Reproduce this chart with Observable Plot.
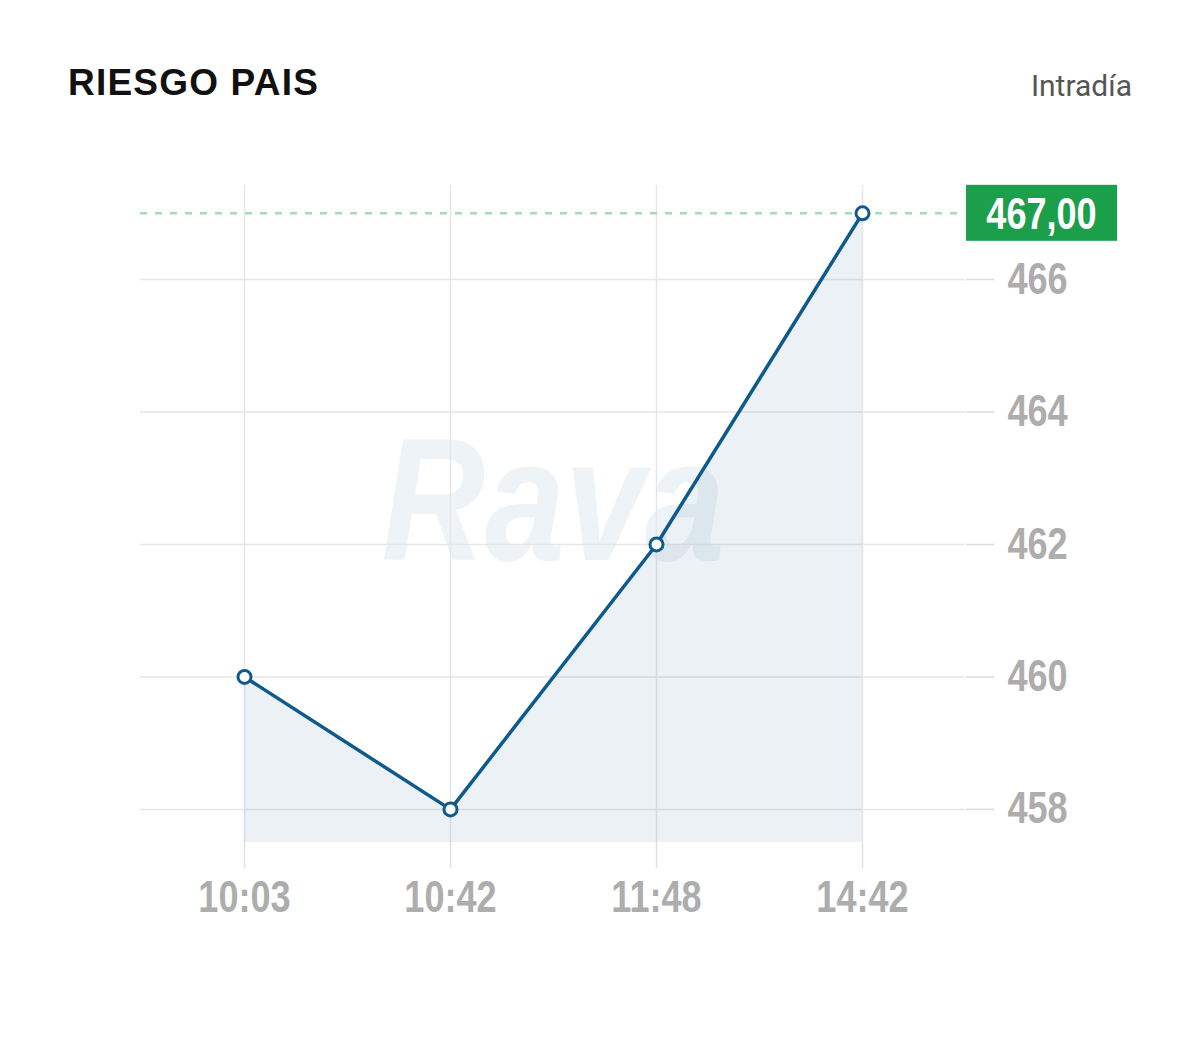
<!DOCTYPE html>
<html>
<head>
<meta charset="utf-8">
<script src="https://cdn.jsdelivr.net/npm/d3@7"></script>
<script src="https://cdn.jsdelivr.net/npm/@observablehq/plot@0.6"></script>
<style>
  html, body { margin: 0; padding: 0; background: #fff; }
  #wrap { width: 1200px; }
  #header { position: relative; width: 1200px; height: 150px; }
  #title { position: absolute; left: 68px; top: 64px; font-family: "Liberation Sans", Arial, sans-serif; font-weight: bold; font-size: 37px; line-height: 1; letter-spacing: 1.2px; color: #111; }
  #sub { position: absolute; right: 68px; top: 71px; font-family: Roboto, "Open Sans", sans-serif; font-size: 30px; line-height: 1; color: #555; }
</style>
</head>
<body>
<div id="wrap">
  <div id="header"><span id="title">RIESGO PAIS</span><span id="sub">Intradía</span></div>
  <div id="chart"></div>
</div>
<script>
const times = ["10:03", "10:42", "11:48", "14:42"];
const values = [460, 458, 462, 467];
const yTicks = [458, 460, 462, 464, 466];
const yDomain = [457.5, 467.42];
const lastValue = 467;
const lastLabel = "467,00";
const watermark = "Rava";

const data = times.map((t, i) => ({t, v: values[i]}));
const font = '"Liberation Sans", Arial, sans-serif';
const blue = "#0e5a8c";
const NARROW = 0.82;

function badge(index, scales, vals, dims) {
  const ns = "http://www.w3.org/2000/svg";
  const g = document.createElementNS(ns, "g");
  const y = scales.y(lastValue);
  const x0 = dims.width - dims.marginRight + 1;
  const w = 151, h = 56;
  const r = document.createElementNS(ns, "rect");
  r.setAttribute("x", x0); r.setAttribute("y", y - h / 2);
  r.setAttribute("width", w); r.setAttribute("height", h);
  r.setAttribute("fill", "#1c9f4b");
  g.appendChild(r);
  const t = document.createElementNS(ns, "text");
  t.setAttribute("transform", `translate(${x0 + w / 2},${y})`);
  t.setAttribute("dy", "0.36em");
  t.setAttribute("text-anchor", "middle");
  t.setAttribute("fill", "#fff");
  t.setAttribute("font-size", 44);
  t.setAttribute("font-weight", "bold");
  t.setAttribute("font-family", "'Liberation Sans', Arial, sans-serif");
  t.textContent = lastLabel;
  g.appendChild(t);
  return g;
}

const chart = Plot.plot({
  width: 1200,
  height: 898,
  marginLeft: 140,
  marginRight: 235,
  marginTop: 35,
  marginBottom: 206,
  style: {background: "transparent", fontFamily: font},
  x: {type: "point", domain: times, padding: 0.5},
  y: {domain: yDomain},
  marks: [
    Plot.text([watermark], {frameAnchor: "middle", text: d => d, fontSize: 175, fontWeight: "bold", fontStyle: "italic", fill: "#eef3f7", dy: -10}),
    Plot.gridX(times, {stroke: "#e6e6e6", strokeOpacity: 1, strokeWidth: 1.5}),
    Plot.gridY(yTicks, {stroke: "#e6e6e6", strokeOpacity: 1, strokeWidth: 1.5}),
    Plot.axisX(times, {tickSize: 26, tickPadding: 12, fontSize: 44, fontWeight: "bold", fill: "#adadad", stroke: "#e0e0e0", strokeWidth: 1.5, label: null}),
    Plot.axisY(yTicks, {anchor: "right", tickSize: 28, tickPadding: 14, fontSize: 44, fontWeight: "bold", fill: "#adadad", stroke: "#dadada", strokeWidth: 1.5, label: null, tickFormat: d => d3.format("d")(d)}),
    Plot.areaY(data, {x: "t", y1: yDomain[0], y2: "v", fill: "#1f5f8f", fillOpacity: 0.09}),
    Plot.ruleY([lastValue], {stroke: "#a6dcb4", strokeWidth: 2.5, strokeDasharray: "7,8"}),
    Plot.line(data, {x: "t", y: "v", stroke: blue, strokeWidth: 3.5}),
    Plot.dot(data, {x: "t", y: "v", r: 6.5, fill: "white", stroke: blue, strokeWidth: 3}),
    badge
  ]
});

// narrow the text horizontally (Arial Narrow look)
chart.querySelectorAll("text").forEach(t => {
  const x = t.getAttribute("x");
  let tr = t.getAttribute("transform") || "";
  if (x !== null) { tr += ` translate(${x},0)`; t.removeAttribute("x"); }
  t.setAttribute("transform", `${tr} scale(${NARROW},1)`);
});
document.getElementById("chart").appendChild(chart);
</script>
</body>
</html>
